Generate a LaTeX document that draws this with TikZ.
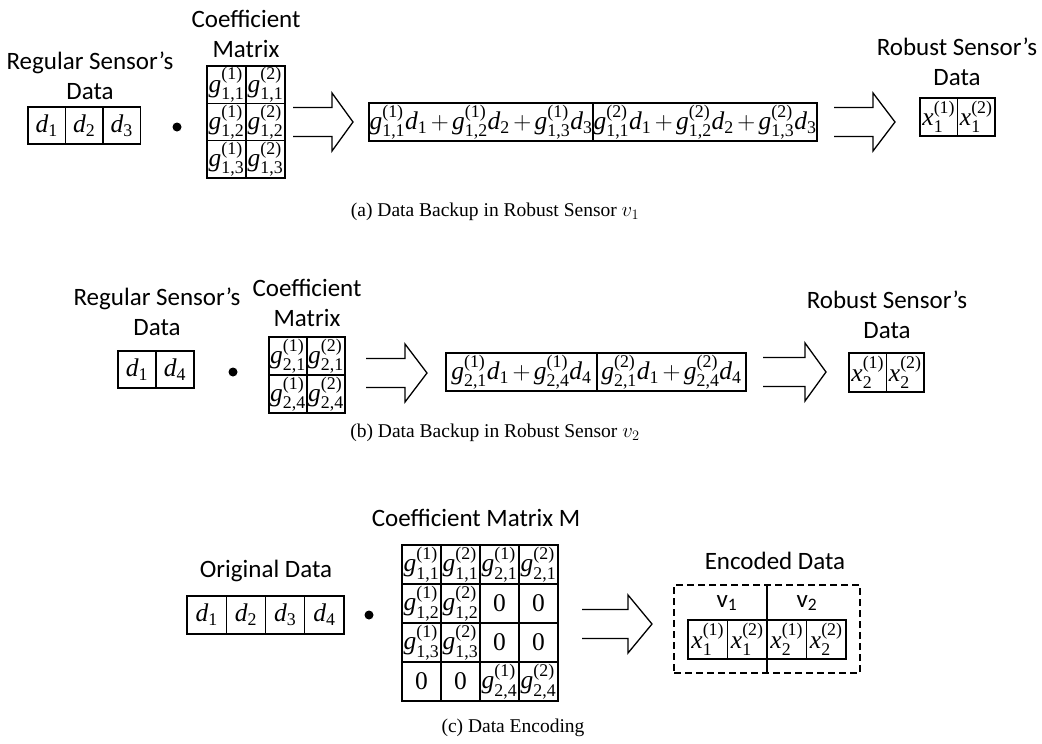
\documentclass[tikz,border=0pt]{standalone}
\usepackage{amsmath}
\usepackage{fontspec}
\setmainfont{Liberation Serif}
\setsansfont{Carlito}

% math pieces set in the serif text font
\newcommand\Gm[2]{\textit{g}^{\text{(#1)}}_{\text{#2}}}
\newcommand\Dm[1]{\textit{d}_{\text{#1}}}
\newcommand\Xm[2]{\textit{x}^{\text{(#1)}}_{\text{#2}}}
\newcommand\mfont{\fontsize{25.5}{30}\selectfont\medmuskip=2.5mu}
\newcommand\lfont{\sffamily\fontsize{25}{30}\selectfont}
\newcommand\cfont{\fontsize{19.5}{22}\selectfont}

\tikzset{
  pics/hollowarrow/.style 2 args={code={
    \draw[arrowline] (0,-14.5) -- (#1,-14.5) -- (#1,-29) -- (#2,0)
      -- (#1,29) -- (#1,14.5) -- (0,14.5);
  }}
}

\begin{document}
\begin{tikzpicture}[x=1pt,y=-1pt,
  every node/.style={inner sep=0pt, outer sep=0pt},
  cell/.style 2 args={draw, line width=1.3pt, minimum width=#1pt, minimum height=#2pt, font=\mfont},
  lbl/.style={font=\lfont, align=center},
  captext/.style={font=\cfont},
  arrowline/.style={line width=1.3pt, line join=miter},
  dotmark/.style={circle, fill=black, minimum size=9pt},
  encframe/.style={draw, line width=1.1pt, dash pattern=on 7pt off 4pt}
]
\fill[white] (0,0) rectangle (1042,744);
\useasboundingbox (0,0) rectangle (1042,744);

% ---------------- (a) backup in robust sensor v1 ----------------
\node[lbl] (aregl) at (90,76) {Regular Sensor's\\Data};
\node[cell={37.5}{37}] (ad1) at (46.75,125.5) {$\Dm{1}$};
\node[cell={37.5}{37}] (ad2) at (84.25,125.5) {$\Dm{2}$};
\node[cell={37.5}{37}] (ad3) at (121.75,125.5) {$\Dm{3}$};
\node[dotmark] (adot) at (177,127) {};

\node[lbl] (acoef) at (246,34) {Coefficient\\Matrix};
\foreach \r/\y in {1/84.67,2/122,3/159.33}{
  \node[cell={39}{37.33}] (am\r1) at (226.5,\y) {$\Gm{1}{1,\r}$};
  \node[cell={39}{37.33}] (am\r2) at (265.5,\y) {$\Gm{2}{1,\r}$};
}
\pic at (293,122) {hollowarrow={39}{60}};

\node[cell={224}{38}] (as1) at (481,122)
  {$\Gm{1}{1,1}\Dm{1}+\Gm{1}{1,2}\Dm{2}+\Gm{1}{1,3}\Dm{3}$};
\node[cell={224}{38}] (as2) at (705,122)
  {$\Gm{2}{1,1}\Dm{1}+\Gm{2}{1,2}\Dm{2}+\Gm{2}{1,3}\Dm{3}$};
\pic at (834,122) {hollowarrow={39}{61}};

\node[lbl] (arob) at (957,62) {Robust Sensor's\\Data};
\node[cell={37.5}{38}] (ax1) at (938.75,117) {$\Xm{1}{1}$};
\node[cell={37.5}{38}] (ax2) at (976.25,117) {$\Xm{2}{1}$};

\node[captext] (capa) at (495,212) {(a) Data Backup in Robust Sensor $v_1$};

% ---------------- (b) backup in robust sensor v2 ----------------
\node[lbl] (bregl) at (157,312) {Regular Sensor's\\Data};
\node[cell={38}{37}] (bd1) at (137,369.5) {$\Dm{1}$};
\node[cell={38}{37}] (bd4) at (175,369.5) {$\Dm{4}$};
\node[dotmark] (bdot) at (233,372) {};

\node[lbl] (bcoef) at (307,303) {Coefficient\\Matrix};
\foreach \r/\y in {1/356,4/394}{
  \node[cell={38}{38}] (bm\r1) at (288,\y) {$\Gm{1}{2,\r}$};
  \node[cell={38}{38}] (bm\r2) at (326,\y) {$\Gm{2}{2,\r}$};
}
\pic at (366,373) {hollowarrow={39}{61}};

\node[cell={151}{38}] (bs1) at (521.5,372) {$\Gm{1}{2,1}\Dm{1}+\Gm{1}{2,4}\Dm{4}$};
\node[cell={149}{38}] (bs2) at (671.5,372) {$\Gm{2}{2,1}\Dm{1}+\Gm{2}{2,4}\Dm{4}$};
\pic at (763,372) {hollowarrow={42}{63}};

\node[lbl] (brob) at (887,315) {Robust Sensor's\\Data};
\node[cell={37.5}{39}] (bx1) at (867.75,372.5) {$\Xm{1}{2}$};
\node[cell={37.5}{39}] (bx2) at (905.25,372.5) {$\Xm{2}{2}$};

\node[captext] (capb) at (495,433) {(b) Data Backup in Robust Sensor $v_2$};

% ---------------- (c) data encoding ----------------
\node[lbl] (corig) at (266,571) {Original Data};
\foreach \i/\x in {1/206.6,2/245.9,3/285.1,4/324.4}{
  \node[cell={39.25}{38}] (cd\i) at (\x,615) {$\Dm{\i}$};
}
\node[dotmark] (cdot) at (369,615) {};

\node[lbl] (ccoef) at (476,518) {Coefficient Matrix M};
% columns 1-2 belong to sensor v1, columns 3-4 to sensor v2
\node[cell={39}{39}] (cm11) at (421.5,564.5) {$\Gm{1}{1,1}$};
\node[cell={39}{39}] (cm12) at (460.5,564.5) {$\Gm{2}{1,1}$};
\node[cell={39}{39}] (cm13) at (499.5,564.5) {$\Gm{1}{2,1}$};
\node[cell={39}{39}] (cm14) at (538.5,564.5) {$\Gm{2}{2,1}$};
\node[cell={39}{39}] (cm21) at (421.5,603.5) {$\Gm{1}{1,2}$};
\node[cell={39}{39}] (cm22) at (460.5,603.5) {$\Gm{2}{1,2}$};
\node[cell={39}{39}] (cm23) at (499.5,603.5) {0};
\node[cell={39}{39}] (cm24) at (538.5,603.5) {0};
\node[cell={39}{39}] (cm31) at (421.5,642.5) {$\Gm{1}{1,3}$};
\node[cell={39}{39}] (cm32) at (460.5,642.5) {$\Gm{2}{1,3}$};
\node[cell={39}{39}] (cm33) at (499.5,642.5) {0};
\node[cell={39}{39}] (cm34) at (538.5,642.5) {0};
\node[cell={39}{39}] (cm41) at (421.5,681.5) {0};
\node[cell={39}{39}] (cm42) at (460.5,681.5) {0};
\node[cell={39}{39}] (cm43) at (499.5,681.5) {$\Gm{1}{2,4}$};
\node[cell={39}{39}] (cm44) at (538.5,681.5) {$\Gm{2}{2,4}$};
\pic at (582,624) {hollowarrow={46}{70}};

\node[lbl] (cenc) at (775,561) {Encoded Data};
\node[encframe, minimum width=186pt, minimum height=88pt] (cframe) at (767,629) {};
\draw[line width=1.1pt] (cframe.north) -- (cframe.south);
\node[lbl] (cv1) at (727,603) {v\textsubscript{1}};
\node[lbl] (cv2) at (807,603) {v\textsubscript{2}};
\node[cell={39.5}{39}] (cx11) at (707.75,639.5) {$\Xm{1}{1}$};
\node[cell={39.5}{39}] (cx12) at (747.25,639.5) {$\Xm{2}{1}$};
\node[cell={39.5}{39}] (cx21) at (786.75,639.5) {$\Xm{1}{2}$};
\node[cell={39.5}{39}] (cx22) at (826.25,639.5) {$\Xm{2}{2}$};

\node[captext] (capc) at (513,728) {(c) Data Encoding};
\end{tikzpicture}
\end{document}
